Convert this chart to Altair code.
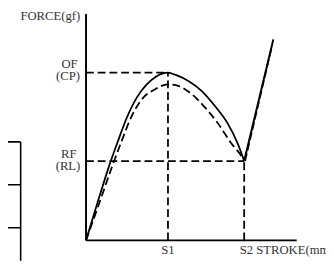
import altair as alt
import pandas as pd

# Force-stroke curve (stroke in S1 units, force with OF = 100)
S1 = 1.0
S2 = 1.93
OF = 100
RF = 47.3

solid_x = [0, 0.15, 0.282, 0.381, 0.50, 0.619, 0.738, 0.857, 1.0, 1.095, 1.254, 1.413, 1.571, 1.73, 1.849, 1.93]
solid_y = [0, 24, 44.4, 58, 73.4, 85.1, 92.8, 97.7, 100, 98.6, 94.8, 89, 80.2, 69.6, 58, 47.3]
solid_rise_x = [1.93, 2.286]
solid_rise_y = [47.3, 119.8]

dash_x = [0, 0.16, 0.321, 0.44, 0.56, 0.699, 0.837, 1.0, 1.135, 1.294, 1.452, 1.611, 1.77, 1.909, 1.93]
dash_y = [0, 22, 44.4, 59.9, 74.4, 85.1, 89.9, 93, 91.9, 87, 79.3, 69.6, 58, 49.2, 47.3]
dash_rise_x = [1.94, 2.27]
dash_rise_y = [47.3, 116]

# axes
axis_top = 134.9
axis_right = 2.571

# guide lines (x, y, x2, y2)
guide_x = [0, 0, S1, S2]
guide_y = [OF, RF, 0, 0]
guide_x2 = [S1, S2, S1, S2]
guide_y2 = [OF, RF, OF, RF]

# partial table at left edge
table_x = [-1.1, -1.1, -1.1, -0.798]
table_y = [58.7, 33.1, 7.56, 58.7]
table_x2 = [-0.798, -0.798, -0.798, -0.798]
table_y2 = [58.7, 33.1, 7.56, -13]

labels_center = ["OF", "(CP)", "RF", "(RL)", "S1"]
labels_center_x = [-0.202, -0.22, -0.21, -0.22, 1.0]
labels_center_y = [105.2, 97.8, 51.7, 44.0, -5.8]
label_force = "FORCE(gf)"
label_stroke = "S2 STROKE(mm)"

XS = alt.Scale(domain=[-80 / 84, 246 / 84], nice=False, zero=False)
YS = alt.Scale(domain=[-21 / 1.72, 235 / 1.72], nice=False, zero=False)
FONT = "Liberation Serif"
INK = "#000000"
TXT = "#333333"


def xe(f="x"):
    return alt.X(f"{f}:Q", scale=XS, axis=None)


def ye(f="y"):
    return alt.Y(f"{f}:Q", scale=YS, axis=None)


solid_df = pd.DataFrame({"x": solid_x, "y": solid_y})
solid_rise_df = pd.DataFrame({"x": solid_rise_x, "y": solid_rise_y})
dash_df = pd.DataFrame({"x": dash_x, "y": dash_y})
dash_rise_df = pd.DataFrame({"x": dash_rise_x, "y": dash_rise_y})
guide_df = pd.DataFrame({"x": guide_x, "y": guide_y, "x2": guide_x2, "y2": guide_y2})
table_df = pd.DataFrame({"x": table_x, "y": table_y, "x2": table_x2, "y2": table_y2})
axes_df = pd.DataFrame({"x": [0, 0], "y": [0, 0], "x2": [0, axis_right], "y2": [axis_top, 0]})
lc_df = pd.DataFrame({"x": labels_center_x, "y": labels_center_y, "t": labels_center})
force_df = pd.DataFrame({"x": [-0.071], "y": [133.7], "t": [label_force]})
stroke_df = pd.DataFrame({"x": [1.875], "y": [-5.8], "t": [label_stroke]})

base_rule = dict(x=xe(), y=ye(), x2="x2:Q", y2="y2:Q")

axes = alt.Chart(axes_df).mark_rule(color=INK, strokeWidth=2).encode(**base_rule)
table = alt.Chart(table_df).mark_rule(color=INK, strokeWidth=1.6, clip=True).encode(**base_rule)
guides = alt.Chart(guide_df).mark_rule(color=INK, strokeWidth=1.8, strokeDash=[8, 4]).encode(**base_rule)

solid = alt.Chart(solid_df).mark_line(color=INK, strokeWidth=1.8, interpolate="monotone").encode(x=xe(), y=ye(), order="x:Q")
solid_rise = alt.Chart(solid_rise_df).mark_line(color=INK, strokeWidth=2).encode(x=xe(), y=ye())
dash = alt.Chart(dash_df).mark_line(color=INK, strokeWidth=1.8, strokeDash=[8, 4], interpolate="monotone").encode(x=xe(), y=ye(), order="x:Q")
dash_rise = alt.Chart(dash_rise_df).mark_line(color=INK, strokeWidth=1.8, strokeDash=[8, 3]).encode(x=xe(), y=ye())

tc = alt.Chart(lc_df).mark_text(font=FONT, fontSize=13, color=TXT, align="center", baseline="middle").encode(x=xe(), y=ye(), text="t:N")
tf = alt.Chart(force_df).mark_text(font=FONT, fontSize=13, color=TXT, align="right", baseline="middle").encode(x=xe(), y=ye(), text="t:N")
ts = alt.Chart(stroke_df).mark_text(font=FONT, fontSize=13, color=TXT, align="left", baseline="middle").encode(x=xe(), y=ye(), text="t:N")

chart = alt.layer(table, guides, dash, dash_rise, solid, solid_rise, axes, tc, tf, ts).properties(
    width=326, height=256, padding=0, autosize="none", background="white"
).configure_view(stroke=None)

chart.save("out.html", embed_options={"renderer": "svg", "actions": False})
